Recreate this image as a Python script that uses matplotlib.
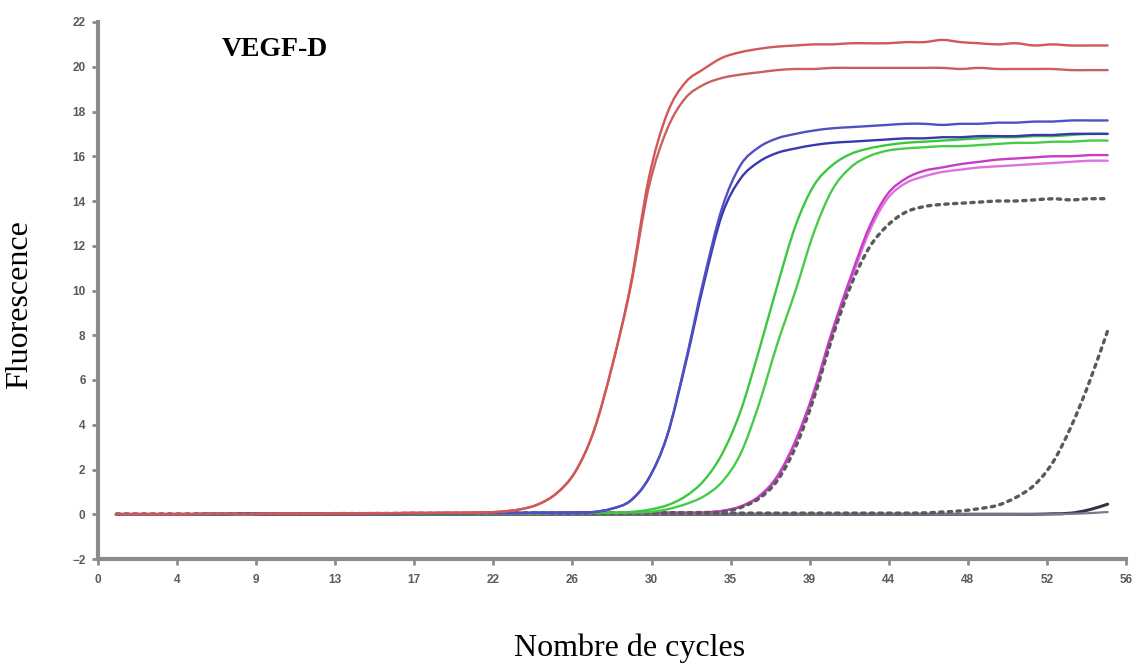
import matplotlib
matplotlib.use("Agg")
import matplotlib.pyplot as plt
from matplotlib.path import Path
from matplotlib.patches import PathPatch

# Amplification cycles
cycles = list(range(1, 56))

# Fluorescence readings per cycle (cycles 1..55)
red_a = [0.0, 0.0, 0.0, 0.0, 0.0, 0.02, 0.02, 0.0, 0.02, 0.03,
         0.03, 0.03, 0.04, 0.04, 0.05, 0.05, 0.06, 0.06, 0.07, 0.07,
         0.08, 0.12, 0.22, 0.45, 0.95, 1.9, 3.7, 6.6, 10.2, 15.0,
         17.9, 19.3, 19.9, 20.4, 20.65, 20.8, 20.9, 20.95, 21.0, 21.0,
         21.05, 21.05, 21.05, 21.1, 21.1, 21.2, 21.1, 21.05, 21.0, 21.05,
         20.95, 21.0, 20.95, 20.95, 20.95]
red_b = [0.0, 0.0, 0.0, 0.0, 0.0, 0.02, 0.02, 0.0, 0.02, 0.03,
         0.03, 0.03, 0.04, 0.04, 0.05, 0.05, 0.06, 0.06, 0.07, 0.07,
         0.08, 0.12, 0.22, 0.45, 0.95, 1.9, 3.7, 6.6, 10.1, 14.6,
         17.2, 18.6, 19.2, 19.5, 19.65, 19.75, 19.85, 19.9, 19.9, 19.95,
         19.95, 19.95, 19.95, 19.95, 19.95, 19.95, 19.9, 19.95, 19.9, 19.9,
         19.9, 19.9, 19.85, 19.85, 19.85]
blue_a = [0.0, 0.0, 0.0, 0.0, 0.0, 0.01, 0.01, 0.02, 0.02, 0.02,
          0.03, 0.03, 0.03, 0.04, 0.04, 0.04, 0.05, 0.05, 0.05, 0.05,
          0.06, 0.06, 0.06, 0.07, 0.07, 0.08, 0.1, 0.25, 0.6, 1.6,
          3.5, 6.8, 10.5, 13.7, 15.6, 16.4, 16.8, 17.0, 17.15, 17.25,
          17.3, 17.35, 17.4, 17.45, 17.45, 17.4, 17.45, 17.45, 17.5, 17.5,
          17.55, 17.55, 17.6, 17.6, 17.6]
blue_b = [0.0, 0.0, 0.0, 0.0, 0.0, 0.01, 0.01, 0.02, 0.02, 0.02,
          0.03, 0.03, 0.03, 0.04, 0.04, 0.04, 0.05, 0.05, 0.05, 0.05,
          0.06, 0.06, 0.06, 0.07, 0.07, 0.08, 0.1, 0.25, 0.6, 1.6,
          3.5, 6.7, 10.3, 13.4, 15.0, 15.75, 16.15, 16.35, 16.5, 16.6,
          16.65, 16.7, 16.75, 16.8, 16.8, 16.85, 16.85, 16.9, 16.9, 16.9,
          16.95, 16.95, 17.0, 17.0, 17.0]
green_a = [0.0, 0.0, 0.0, 0.0, 0.0, 0.01, 0.01, 0.01, 0.02, 0.02,
           0.02, 0.03, 0.03, 0.03, 0.03, 0.04, 0.04, 0.04, 0.04, 0.05,
           0.05, 0.05, 0.05, 0.05, 0.06, 0.06, 0.06, 0.07, 0.1, 0.2,
           0.4, 0.8, 1.5, 2.7, 4.6, 7.3, 10.2, 12.9, 14.7, 15.6,
           16.1, 16.35, 16.5, 16.6, 16.65, 16.7, 16.75, 16.8, 16.85, 16.85,
           16.9, 16.9, 16.95, 17.0, 17.0]
green_b = [0.0, 0.0, 0.0, 0.0, 0.0, 0.01, 0.01, 0.01, 0.02, 0.02,
           0.02, 0.03, 0.03, 0.03, 0.03, 0.04, 0.04, 0.04, 0.04, 0.05,
           0.05, 0.05, 0.05, 0.05, 0.06, 0.06, 0.06, 0.07, 0.08, 0.1,
           0.22, 0.45, 0.8, 1.45, 2.7, 4.9, 7.6, 10.0, 12.6, 14.5,
           15.5, 16.0, 16.25, 16.35, 16.4, 16.45, 16.45, 16.5, 16.55, 16.6,
           16.6, 16.65, 16.65, 16.7, 16.7]
magenta_a = [0.0, 0.0, 0.0, 0.0, 0.0, 0.01, 0.01, 0.01, 0.02, 0.02,
             0.02, 0.02, 0.03, 0.03, 0.03, 0.03, 0.04, 0.04, 0.04, 0.04,
             0.05, 0.05, 0.05, 0.05, 0.05, 0.05, 0.06, 0.06, 0.06, 0.06,
             0.07, 0.07, 0.08, 0.15, 0.35, 0.8, 1.7, 3.3, 5.5, 8.2,
             10.6, 12.8, 14.3, 15.0, 15.35, 15.5, 15.65, 15.75, 15.85, 15.9,
             15.95, 16.0, 16.0, 16.05, 16.05]
magenta_b = [0.0, 0.0, 0.0, 0.0, 0.0, 0.01, 0.01, 0.01, 0.02, 0.02,
             0.02, 0.02, 0.03, 0.03, 0.03, 0.03, 0.04, 0.04, 0.04, 0.04,
             0.05, 0.05, 0.05, 0.05, 0.05, 0.05, 0.06, 0.06, 0.06, 0.06,
             0.07, 0.07, 0.08, 0.15, 0.33, 0.75, 1.6, 3.2, 5.3, 8.0,
             10.4, 12.6, 14.1, 14.8, 15.1, 15.3, 15.4, 15.5, 15.55, 15.6,
             15.65, 15.7, 15.75, 15.8, 15.8]
dotted_a = [0.0, 0.0, 0.0, 0.0, 0.0, 0.01, 0.01, 0.01, 0.02, 0.02,
            0.02, 0.02, 0.03, 0.03, 0.03, 0.03, 0.04, 0.04, 0.04, 0.04,
            0.05, 0.05, 0.05, 0.05, 0.05, 0.05, 0.06, 0.06, 0.06, 0.06,
            0.07, 0.07, 0.08, 0.1, 0.3, 0.7, 1.5, 3.0, 5.2, 7.9,
            10.2, 11.9, 12.9, 13.5, 13.75, 13.85, 13.9, 13.95, 14.0, 14.0,
            14.05, 14.1, 14.05, 14.1, 14.1]
dotted_b = [0.0, 0.0, 0.0, 0.0, 0.0, 0.01, 0.01, 0.01, 0.01, 0.02,
            0.02, 0.02, 0.02, 0.02, 0.03, 0.03, 0.03, 0.03, 0.03, 0.03,
            0.04, 0.04, 0.04, 0.04, 0.04, 0.04, 0.04, 0.05, 0.05, 0.05,
            0.05, 0.05, 0.05, 0.05, 0.05, 0.05, 0.05, 0.05, 0.05, 0.05,
            0.05, 0.05, 0.05, 0.05, 0.06, 0.1, 0.15, 0.25, 0.4, 0.75,
            1.3, 2.3, 3.9, 5.9, 8.2]
ntc_a = [0.0, 0.0, 0.0, 0.0, 0.0, 0.0, 0.0, 0.0, 0.0, 0.0,
         0.0, 0.0, 0.0, 0.0, 0.0, 0.0, 0.0, 0.0, 0.0, 0.0,
         0.0, 0.0, 0.0, 0.0, 0.0, 0.0, 0.0, 0.0, 0.0, 0.0,
         0.0, 0.0, 0.0, 0.0, 0.0, 0.0, 0.0, 0.0, 0.0, 0.0,
         0.0, 0.0, 0.0, 0.0, 0.0, 0.0, 0.0, 0.0, 0.0, 0.0,
         0.0, 0.02, 0.05, 0.2, 0.45]
ntc_b = [0.0, 0.0, 0.0, 0.0, 0.0, 0.0, 0.0, 0.0, 0.0, 0.0,
         0.0, 0.0, 0.0, 0.0, 0.0, 0.0, 0.0, 0.0, 0.0, 0.0,
         0.0, 0.0, 0.0, 0.0, 0.0, 0.0, 0.0, 0.0, 0.0, 0.0,
         0.0, 0.0, 0.0, 0.0, 0.0, 0.0, 0.0, 0.0, 0.0, 0.0,
         0.0, 0.0, 0.0, 0.0, 0.0, 0.0, 0.0, 0.0, 0.0, 0.0,
         0.0, 0.0, 0.02, 0.05, 0.1]

x_tick_labels = ["0", "4", "9", "13", "17", "22", "26", "30", "35", "39",
                 "44", "48", "52", "56"]
y_ticks = [-2, 0, 2, 4, 6, 8, 10, 12, 14, 16, 18, 20, 22]


def smooth_curve(xs, ys):
    """Cubic Bezier path passing through every reading (Catmull-Rom style)."""
    n = len(xs)
    verts = [(xs[0], ys[0])]
    codes = [Path.MOVETO]
    for i in range(n - 1):
        x0, y0 = (xs[i - 1], ys[i - 1]) if i > 0 else (xs[i], ys[i])
        x1, y1 = xs[i], ys[i]
        x2, y2 = xs[i + 1], ys[i + 1]
        x3, y3 = (xs[i + 2], ys[i + 2]) if i + 2 < n else (x2, y2)
        verts.append((x1 + (x2 - x0) / 6, y1 + (y2 - y0) / 6))
        verts.append((x2 - (x3 - x1) / 6, y2 - (y3 - y1) / 6))
        verts.append((x2, y2))
        codes += [Path.CURVE4] * 3
    return Path(verts, codes)


def draw(ax, ys, **kw):
    patch = PathPatch(smooth_curve(cycles, ys), fill=False,
                      transform=ax.transData, capstyle="round", **kw)
    ax.add_patch(patch)


W, H = 1138, 666
fig = plt.figure(figsize=(W / 100, H / 100), dpi=100)
ax = fig.add_axes([98 / W, 1 - 559 / H, (1126 - 98) / W, (559 - 22) / H])

lw = 1.7
dots = (0, (1.0, 1.6))
draw(ax, ntc_a, edgecolor="#33334d", lw=2.2)
draw(ax, ntc_b, edgecolor="#7a7a8a", lw=1.6)
draw(ax, dotted_b, edgecolor="#5a5a5a", lw=2.4, linestyle=dots)
draw(ax, magenta_b, edgecolor="#e070e0", lw=lw)
draw(ax, magenta_a, edgecolor="#c83cc8", lw=lw)
draw(ax, dotted_a, edgecolor="#5a5a5a", lw=2.4, linestyle=dots)
draw(ax, green_b, edgecolor="#48cc48", lw=lw)
draw(ax, green_a, edgecolor="#3cc83c", lw=lw)
draw(ax, blue_b, edgecolor="#3838b0", lw=lw)
draw(ax, blue_a, edgecolor="#5050c4", lw=lw)
draw(ax, red_b, edgecolor="#c86060", lw=lw)
draw(ax, red_a, edgecolor="#d45656", lw=lw)

ax.set_xlim(0, 56)
ax.set_ylim(-2, 22)
ax.set_xticks([56 * k / 13 for k in range(14)])
ax.set_xticklabels(x_tick_labels)
ax.set_yticks(y_ticks)

for side in ("top", "right"):
    ax.spines[side].set_visible(False)
for side in ("left", "bottom"):
    ax.spines[side].set_color("#8c8c8c")
    ax.spines[side].set_linewidth(3)

ax.tick_params(axis="both", colors="#8c8c8c", length=4, width=2,
               labelcolor="#5a5a5a", labelsize=8.5)
ax.tick_params(axis="x", pad=7)
ax.tick_params(axis="y", pad=5)
for lab in ax.get_xticklabels() + ax.get_yticklabels():
    lab.set_fontfamily("Liberation Sans")
    lab.set_fontweight("bold")

fig.text(222 / W, 1 - 50 / H, "VEGF-D", family="Liberation Serif",
         weight="bold", fontsize=20, va="center", ha="left")
fig.text(20 / W, 1 - 305 / H, "Fluorescence", family="Liberation Serif",
         fontsize=23, rotation=90, va="center", ha="center")
fig.text(630 / W, 1 - 648 / H, "Nombre de cycles", family="Liberation Serif",
         fontsize=23, va="center", ha="center")

fig.savefig("out.png", dpi=100)
